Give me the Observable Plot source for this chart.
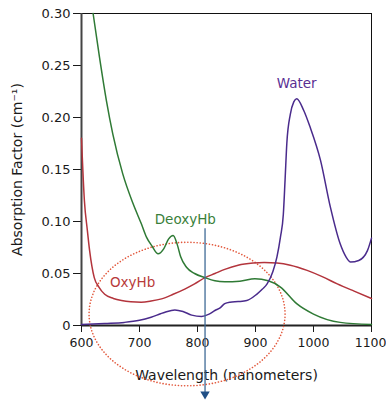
<!DOCTYPE html>
<html>
<head>
<meta charset="utf-8">
<script src="https://cdn.jsdelivr.net/npm/d3@7"></script>
<script src="https://cdn.jsdelivr.net/npm/@observablehq/plot@0.6"></script>
<style>
  html, body { margin: 0; padding: 0; background: #fff; }
  svg { display: block; }
</style>
</head>
<body>
<div id="chart"></div>
<script>
// ---- Data ----
const deoxyWl  = [620, 631, 643, 654, 671, 689, 703, 712, 722, 732, 742, 750, 758, 765, 771, 781, 795, 813, 830, 847, 873, 899, 922, 943, 971, 1000, 1046, 1100];
const deoxyAbs = [0.300, 0.258, 0.216, 0.184, 0.146, 0.117, 0.098, 0.085, 0.076, 0.069, 0.074, 0.083, 0.0865, 0.078, 0.066, 0.056, 0.050, 0.046, 0.043, 0.042, 0.0426, 0.0449, 0.043, 0.037, 0.021, 0.011, 0.003, 0.001];

const oxyWl  = [600, 605, 610, 614, 622, 630, 640, 655, 669, 685, 703, 720, 738, 758, 778, 795, 813, 830, 847, 870, 896, 915, 937, 960, 989, 1015, 1041, 1070, 1100];
const oxyAbs = [0.180, 0.120, 0.092, 0.072, 0.046, 0.037, 0.030, 0.026, 0.024, 0.0228, 0.0224, 0.0235, 0.0256, 0.030, 0.035, 0.040, 0.046, 0.050, 0.054, 0.058, 0.060, 0.0605, 0.060, 0.058, 0.053, 0.047, 0.040, 0.033, 0.026];

const waterWl  = [600, 640, 674, 700, 720, 735, 744, 761, 775, 790, 807, 820, 830, 839, 847, 856, 870, 885, 902, 912, 920, 930, 937, 943, 948, 951, 954, 960, 966, 971, 983, 994, 1012, 1029, 1046, 1056, 1064, 1078, 1093, 1100];
const waterAbs = [0.001, 0.002, 0.003, 0.005, 0.008, 0.011, 0.0128, 0.015, 0.0135, 0.010, 0.0087, 0.011, 0.0144, 0.017, 0.021, 0.0224, 0.023, 0.024, 0.030, 0.035, 0.040, 0.052, 0.066, 0.085, 0.107, 0.140, 0.175, 0.203, 0.215, 0.218, 0.207, 0.191, 0.159, 0.114, 0.0785, 0.066, 0.061, 0.0625, 0.072, 0.084];

const xTicks = [600, 700, 800, 900, 1000, 1100];
const yTicks = [0, 0.05, 0.10, 0.15, 0.20, 0.25, 0.30];

const seriesLabels = ["Water", "DeoxyHb", "OxyHb"];
const labelWl  = [971, 779, 688];
const labelAbs = [0.233, 0.102, 0.041];

// annotation: dotted ellipse (centre / radii in data units) and arrow
const ellipseCenter = [782, 0.011];
const ellipseRadii  = [169, 0.069];
const arrowWl = 813;
const arrowTop = 0.093;
const arrowTip = -0.066;

// ---- Build tables ----
const toRows = (xs, ys) => xs.map((x, i) => ({x, y: ys[i]}));
const deoxy = toRows(deoxyWl, deoxyAbs);
const oxy = toRows(oxyWl, oxyAbs);
const water = toRows(waterWl, waterAbs);
const labels = seriesLabels.map((t, i) => ({t, x: labelWl[i], y: labelAbs[i]}));
const ellipse = d3.range(0, 361, 3).map(a => {
  const r = a * Math.PI / 180;
  return {x: ellipseCenter[0] + ellipseRadii[0] * Math.cos(r), y: ellipseCenter[1] + ellipseRadii[1] * Math.sin(r)};
});

const GREEN = "#2f7a35", RED = "#b3343c", PURPLE = "#4a2b8c";
const FONT = "DejaVu Sans, sans-serif";

const chart = Plot.plot({
  width: 386,
  height: 403,
  marginLeft: 81,
  marginRight: 15,
  marginTop: 13,
  marginBottom: 78,
  style: {fontFamily: FONT, fontSize: "14px", color: "#1a1a1a", background: "#fff"},
  x: {domain: [600, 1100]},
  y: {domain: [0, 0.30]},
  marks: [
    Plot.frame({stroke: "#111", strokeWidth: 1}),
    Plot.axisX({ticks: xTicks, tickSize: 7, tickPadding: 6, fontSize: 12.5,
      tickFormat: d => String(d),
      label: null}),
    Plot.axisX({ticks: [], tickSize: 0, fontSize: 14,
      label: "Wavelength (nanometers)", labelAnchor: "center", labelArrow: "none", labelOffset: 54}),
    Plot.axisY({ticks: yTicks, tickSize: 8, tickPadding: 3, fontSize: 13,
      tickFormat: d => d === 0 ? "0" : d.toFixed(2),
      label: null}),
    Plot.axisY({ticks: [], tickSize: 0, fontSize: 14,
      label: "Absorption Factor (cm⁻¹)", labelAnchor: "center", labelArrow: "none", labelOffset: 69}),
    Plot.ruleY([0], {stroke: "#222", strokeWidth: 2}),
    Plot.ruleX([600], {stroke: "#444", strokeWidth: 2}),
    Plot.line(ellipse, {x: "x", y: "y", stroke: "#e2583c", strokeWidth: 1.6, strokeDasharray: "0.1,3", strokeLinecap: "round"}),
    Plot.line(oxy, {x: "x", y: "y", stroke: RED, strokeWidth: 1.5, curve: "monotone-x"}),
    Plot.line(deoxy, {x: "x", y: "y", stroke: GREEN, strokeWidth: 1.5, curve: "monotone-x"}),
    Plot.line(water, {x: "x", y: "y", stroke: PURPLE, strokeWidth: 1.5, curve: "monotone-x"}),
    Plot.ruleX([arrowWl], {y1: arrowTop, y2: arrowTip, stroke: "#3f6a96", strokeWidth: 1.3}),
    Plot.dot([arrowWl], {x: d => d, y: arrowTip, symbol: "triangle", rotate: 180, r: 3.5, fill: "#1f4f86", stroke: "none"}),
    Plot.text(labels, {x: "x", y: "y", text: "t", fontSize: 13.5, fontWeight: 500,
      fill: d => d.t === "Water" ? "#5a2f93" : d.t === "DeoxyHb" ? "#3a7f3a" : "#b83a3a"})
  ]
});
// keep the last x tick label inside the picture
d3.select(chart).selectAll("text").filter(function() { return this.textContent === "1100"; })
  .attr("text-anchor", "end").attr("dx", 15);
document.getElementById("chart").append(chart);
</script>
</body>
</html>
